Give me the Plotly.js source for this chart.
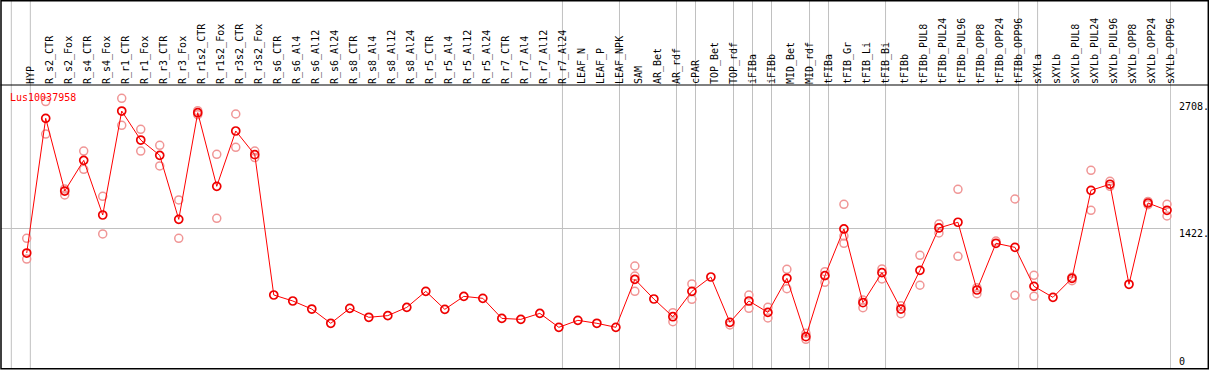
<!DOCTYPE html>
<html><head><meta charset="utf-8">
<script src="https://cdn.plot.ly/plotly-3.0.1.min.js"></script>
<style>html,body{margin:0;padding:0;background:#fff;overflow:hidden}#chart{width:1209px;height:370px}</style>
</head><body><div id="chart"></div><script>
const geneName = 'Lus10037958';
const samples = ['HYP','R_s2_CTR','R_s2_Fox','R_s4_CTR','R_s4_Fox','R_r1_CTR','R_r1_Fox','R_r3_CTR','R_r3_Fox',
  'R_r1s2_CTR','R_r1s2_Fox','R_r3s2_CTR','R_r3s2_Fox','R_s6_CTR','R_s6_Al4','R_s6_Al12','R_s6_Al24',
  'R_s8_CTR','R_s8_Al4','R_s8_Al12','R_s8_Al24','R_r5_CTR','R_r5_Al4','R_r5_Al12','R_r5_Al24',
  'R_r7_CTR','R_r7_Al4','R_r7_Al12','R_r7_Al24','LEAF_N','LEAF_P','LEAF_NPK','SAM','AR_Bet','AR_rdf',
  'cPAR','TOP_Bet','TOP_rdf','iFIBa','iFIBb','MID_Bet','MID_rdf','tFIBa','tFIB_Gr','tFIB_Li','tFIB_Bi',
  'tFIBb','tFIBb_PUL8','tFIBb_PUL24','tFIBb_PUL96','tFIBb_OPP8','tFIBb_OPP24','tFIBb_OPP96',
  'sXYLa','sXYLb','sXYLb_PUL8','sXYLb_PUL24','sXYLb_PUL96','sXYLb_OPP8','sXYLb_OPP24','sXYLb_OPP96'];
const meanValues = [1170,2541,1801,2113,1557,2615,2320,2164,1513,2598,1849,2412,2171,
  743,682,600,455,607,516,533,617,780,597,729,709,505,495,556,414,485,455,414,
  902,702,522,780,926,465,682,566,913,319,940,1415,665,970,
  600,994,1425,1483,794,1269,1228,831,719,913,1808,1870,852,1679,1605];
const repHigh = [1320,2711,1822,2208,1747,2745,2429,2266,1710,2619,2175,2585,2208,
  null,null,null,null,null,null,null,null,null,null,null,null,null,null,null,null,null,null,null,
  1038,null,563,855,null,null,743,617,1004,353,980,1666,692,1008,
  634,1147,1465,1818,817,1292,1720,943,null,923,2012,1900,null,1695,1666];
const repLow = [1109,2381,1761,2022,1364,2470,2208,2056,1320,2578,1523,2246,2141,
  null,null,null,null,null,null,null,null,null,null,null,null,null,null,null,null,null,null,null,
  780,null,471,699,null,438,607,509,807,292,872,1269,614,906,
  553,842,1374,1137,756,null,740,730,null,889,1605,1849,null,1662,1547];
const repMid = [null,null,null,null,null,null,null,null,null,null,null,null,null,
  null,null,null,null,null,null,null,null,null,null,null,null,null,null,null,null,null,null,null,
  936,null,null,null,null,null,null,null,null,null,null,1343,null,null,
  null,null,null,null,null,null,null,null,null,null,null,null,null,null,null];
const groupEnds = [0,1,29,32,35,36,38,39,40,42,43,46,53,54,61];
const gridValues = [1422];
const rightLabelValues = [2708, 1422, 0];
const rightLabelTexts = ['2708.', '1422.', '0'];

const xs = samples.map((_, i) => i + 1);
const mono = 'DejaVu Sans Mono, monospace';
const W = 1209, L = 1, R = 38.3, T = 85, B = 2, H = 370;
const pw = W - L - R, ph = H - T - B;
const px = p => (p - L) / pw;
const py = p => (H - B - p) / ph;

const traces = [
  {x: xs.concat(xs, xs), y: repHigh.concat(repLow, repMid), mode: 'markers', type: 'scatter',
   marker: {symbol: 'circle-open', size: 8, color: 'rgb(240,150,150)', line: {width: 1.5}},
   hoverinfo: 'skip', cliponaxis: false},
  {x: xs, y: meanValues, mode: 'lines+markers', type: 'scatter',
   line: {color: '#ff0000', width: 1},
   marker: {symbol: 'circle-open', size: 8, color: '#ee0000', line: {width: 1.7}},
   cliponaxis: false}
];

const shapes = groupEnds.map(k => ({type: 'line', xref: 'x', yref: 'paper', x0: k + 0.19, x1: k + 0.19,
  y0: py(369), y1: py(0), line: {color: '#c0c0c0', width: 1}, layer: 'below'}));
const black = {color: '#000', width: 1.5};
shapes.push({type: 'line', xref: 'paper', yref: 'paper', x0: px(0.5), x1: px(1208.3), y0: py(85), y1: py(85), line: {color: '#000', width: 1}});
shapes.push({type: 'rect', xref: 'paper', yref: 'paper', x0: px(1), x1: px(1208), y0: py(368.8), y1: py(0.7), line: black, fillcolor: 'rgba(0,0,0,0)'});

const annotations = rightLabelValues.map((v, i) => ({xref: 'paper', yref: 'y', x: px(1177), y: v,
  text: rightLabelTexts[i], showarrow: false, xanchor: 'left',
  yanchor: v === 0 ? 'bottom' : 'middle', yshift: v === 0 ? -1 : -5,
  font: {family: mono, size: 10, color: '#000'}}));

const layout = {
  width: W, height: H, margin: {l: L, r: R, t: T, b: B, pad: 0},
  paper_bgcolor: '#fff', plot_bgcolor: '#fff', showlegend: false,
  title: {text: geneName, font: {family: mono, size: 10, color: '#ff0000'},
    xref: 'paper', x: px(10), xanchor: 'left', yref: 'paper', y: py(97), yanchor: 'middle'},
  xaxis: {range: [1 + (L - 26.7) / 19, 1 + (L + pw - 26.7) / 19], side: 'top', tickmode: 'array',
    tickvals: xs, ticktext: samples, tickangle: -90, ticks: '', showgrid: false, zeroline: false,
    showline: false, ticklabelshift: 4, tickfont: {family: mono, size: 10, color: '#000'}, fixedrange: true},
  yaxis: {range: [0, 2880], tickmode: 'array', tickvals: gridValues, showticklabels: false, ticks: '',
    showgrid: true, gridcolor: '#c0c0c0', gridwidth: 1, zeroline: false, showline: false, fixedrange: true},
  shapes: shapes, annotations: annotations
};
Plotly.newPlot('chart', traces, layout, {displayModeBar: false, staticPlot: true});
</script></body></html>
